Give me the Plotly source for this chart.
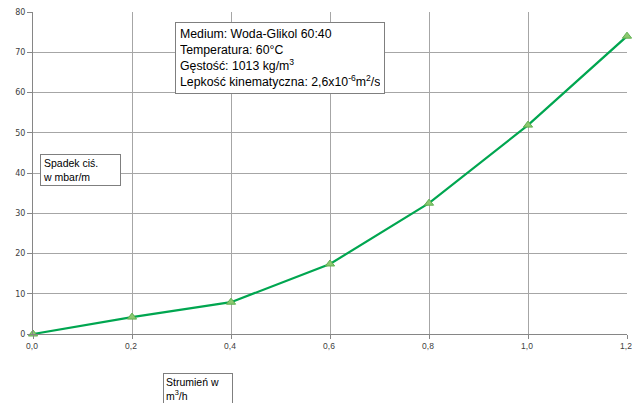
import plotly.graph_objects as go

flow = [0.0, 0.2, 0.4, 0.6, 0.8, 1.0, 1.2]
pressure_drop = [0.0, 4.2, 7.9, 17.4, 32.5, 51.9, 74.0]
x_ticks = [0.0, 0.2, 0.4, 0.6, 0.8, 1.0, 1.2]
x_tick_labels = ["0,0", "0,2", "0,4", "0,6", "0,8", "1,0", "1,2"]
y_ticks = [0, 10, 20, 30, 40, 50, 60, 70, 80]

info_text = ("Medium: Woda-Glikol 60:40<br>Temperatura: 60°C<br>"
             "Gęstość: 1013 kg/m<sup>3</sup><br>"
             "Lepkość kinematyczna: 2,6x10<sup>-6</sup>m<sup>2</sup>/s")
y_label = "Spadek ciś.<br>w mbar/m"
x_label = "Strumień w<br>m<sup>3</sup>/h"

fig = go.Figure()
fig.add_trace(go.Scatter(
    x=flow, y=pressure_drop, mode="lines+markers",
    line=dict(color="#00a650", width=2.2),
    marker=dict(symbol="triangle-up", size=8, color="#8cc870",
                line=dict(color="#5fb050", width=1)),
    showlegend=False, cliponaxis=False, hoverinfo="skip",
))

font = "Liberation Sans, Arial, sans-serif"
fig.update_layout(
    width=632, height=403,
    margin=dict(l=33, r=5, t=12, b=69, autoexpand=False),
    paper_bgcolor="white", plot_bgcolor="white",
    font=dict(family=font, color="#000000"),
    xaxis=dict(range=[0, 1.2], tickvals=x_ticks, ticktext=x_tick_labels,
               showgrid=True, gridcolor="#a6a6a6", gridwidth=1,
               showline=True, linecolor="#868686", linewidth=1,
               ticks="outside", ticklen=4, tickcolor="#868686",
               tickfont=dict(size=8.5, color="#404040", family=font),
               ticklabeloverflow="allow", ticklabelshift=-1,
               zeroline=False, fixedrange=True, automargin=False),
    yaxis=dict(range=[0, 80], tickvals=y_ticks,
               showgrid=True, gridcolor="#a6a6a6", gridwidth=1,
               showline=True, linecolor="#868686", linewidth=1,
               ticks="outside", ticklen=5, tickcolor="#868686",
               tickfont=dict(size=8, color="#404040", family="DejaVu Sans"),
               ticklabeloverflow="allow",
               zeroline=False, fixedrange=True, automargin=False),
    annotations=[
        dict(xref="paper", yref="paper", x=0.239, y=0.969,
             xanchor="left", yanchor="top", showarrow=False, align="left",
             text=info_text, font=dict(size=12.3, family=font, color="#000"),
             bordercolor="#7f7f7f", borderwidth=1, borderpad=4,
             bgcolor="white", width=200),
        dict(xref="paper", yref="paper", x=0.0118, y=0.559,
             xanchor="left", yanchor="top", showarrow=False, align="left",
             text=y_label, font=dict(size=10.5, family=font, color="#000"),
             bordercolor="#7f7f7f", borderwidth=1, borderpad=2,
             bgcolor="white", width=75),
        dict(xref="paper", yref="paper", x=0.219, y=-0.120,
             xanchor="left", yanchor="top", showarrow=False, align="left",
             text=x_label, font=dict(size=10.5, family=font, color="#000"),
             bordercolor="#7f7f7f", borderwidth=1, borderpad=2,
             bgcolor="white", width=64),
    ],
)

fig.write_html("out.html", config={"displayModeBar": False, "staticPlot": True},
               post_script="document.body.style.margin='0';document.body.style.padding='0';window.dispatchEvent(new Event('resize'));")
